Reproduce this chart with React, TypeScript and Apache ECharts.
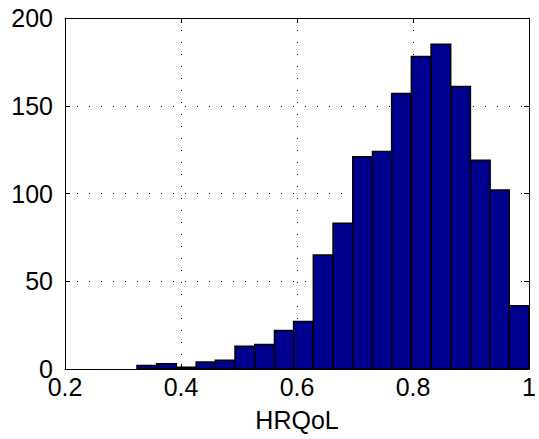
import React, { useEffect, useRef } from "react";
import * as echarts from "echarts";

// Histogram bins of HRQoL scores: bin centres and counts
const binCenters = [
  0.341, 0.375, 0.409, 0.443, 0.476, 0.51, 0.544, 0.578, 0.611, 0.645,
  0.679, 0.713, 0.747, 0.78, 0.814, 0.848, 0.882, 0.916, 0.949, 0.983,
];
const binCounts = [
  2, 3, 1, 4, 5, 13, 14, 22, 27, 65,
  83, 121, 124, 157, 178, 185, 161, 119, 102, 36,
];
const binWidth = 0.0338;

const xTicks = [0.2, 0.4, 0.6, 0.8, 1];
const yTicks = [0, 50, 100, 150, 200];
const xTitle = "HRQoL";

const FONT = "'Liberation Sans', Arial, Helvetica, sans-serif";

export default function App() {
  const ref = useRef<HTMLDivElement>(null);

  useEffect(() => {
    if (!ref.current) return;
    const chart = echarts.init(ref.current, null, { renderer: "svg" });

    const data = binCenters.map((c, i) => [c - binWidth / 2, c + binWidth / 2, binCounts[i]]);
    const dotted = { color: "#000", width: 1, type: [1, 11] as number[] };
    const tickFmt = (v: number) => String(parseFloat(v.toFixed(3)));

    chart.setOption({
      animation: false,
      backgroundColor: "#fff",
      grid: { left: 65, right: 6.5, top: 18, bottom: 70, containLabel: false },
      xAxis: [
        {
          type: "value",
          min: xTicks[0],
          max: xTicks[xTicks.length - 1],
          interval: 0.2,
          name: xTitle,
          nameLocation: "middle",
          nameGap: 38,
          nameTextStyle: { fontFamily: FONT, fontSize: 25, color: "#000" },
          axisLine: { show: true, onZero: false, lineStyle: { color: "#000", width: 1 } },
          axisTick: { show: true, inside: true, length: 5, lineStyle: { color: "#000" } },
          axisLabel: {
            fontFamily: FONT,
            fontSize: 25,
            color: "#000",
            margin: 5,
            showMinLabel: true,
            showMaxLabel: true,
            hideOverlap: false,
            formatter: tickFmt,
          },
          splitLine: { show: true, lineStyle: dotted },
        },
        {
          type: "value",
          position: "top",
          min: xTicks[0],
          max: xTicks[xTicks.length - 1],
          interval: 0.2,
          axisLine: { show: true, onZero: false, lineStyle: { color: "#000", width: 1 } },
          axisTick: { show: true, inside: true, length: 5, lineStyle: { color: "#000" } },
          axisLabel: { show: false },
          splitLine: { show: false },
        },
      ],
      yAxis: [
        {
          type: "value",
          min: yTicks[0],
          max: yTicks[yTicks.length - 1],
          interval: 50,
          axisLine: { show: true, onZero: false, lineStyle: { color: "#000", width: 1 } },
          axisTick: { show: true, inside: true, length: 5, lineStyle: { color: "#000" } },
          axisLabel: {
            fontFamily: FONT,
            fontSize: 25,
            color: "#000",
            margin: 12,
            formatter: tickFmt,
          },
          splitLine: { show: true, lineStyle: dotted },
        },
        {
          type: "value",
          position: "right",
          min: yTicks[0],
          max: yTicks[yTicks.length - 1],
          interval: 50,
          axisLine: { show: true, onZero: false, lineStyle: { color: "#000", width: 1 } },
          axisTick: { show: true, inside: true, length: 5, lineStyle: { color: "#000" } },
          axisLabel: { show: false },
          splitLine: { show: false },
        },
      ],
      series: [
        {
          type: "custom",
          xAxisIndex: 0,
          yAxisIndex: 0,
          clip: true,
          data,
          encode: { x: [0, 1], y: 2 },
          renderItem: (params: any, api: any) => {
            const x0 = api.value(0);
            const x1 = api.value(1);
            const y = api.value(2);
            const p0 = api.coord([x0, y]);
            const p1 = api.coord([x1, 0]);
            return {
              type: "rect",
              shape: { x: p0[0], y: p0[1], width: p1[0] - p0[0], height: p1[1] - p0[1] },
              style: { fill: "#00008f", stroke: "#000", lineWidth: 1.5 },
            };
          },
        },
      ],
    });

    return () => chart.dispose();
  }, []);

  return (
    <div
      ref={ref}
      style={{ position: "absolute", left: 0, top: 0, width: 539, height: 439 }}
    />
  );
}
